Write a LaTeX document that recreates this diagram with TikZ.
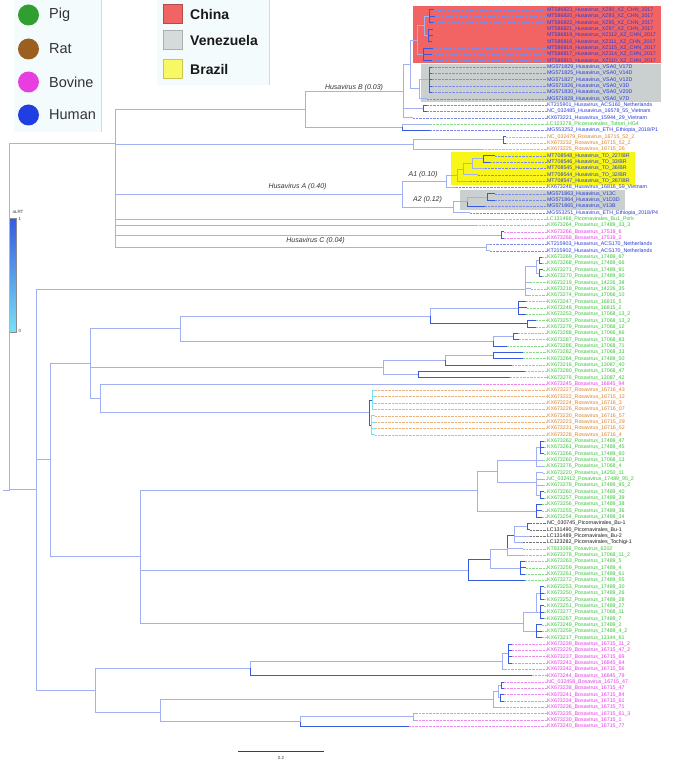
\documentclass[tikz,border=0pt]{standalone}
\usepackage{fontspec}
\setmainfont{Liberation Sans}
\definecolor{brL}{RGB}{160,176,240}
\definecolor{brD}{RGB}{55,90,225}
\definecolor{brC}{RGB}{120,225,245}
\definecolor{hu}{RGB}{40,60,215}
\definecolor{pg}{RGB}{55,195,55}
\definecolor{rt}{RGB}{220,128,40}
\definecolor{bv}{RGB}{232,55,232}
\definecolor{bk}{RGB}{25,25,25}
\definecolor{boxR}{RGB}{242,100,100}
\definecolor{boxG}{RGB}{202,207,207}
\definecolor{boxY}{RGB}{248,246,25}
\definecolor{legR}{RGB}{240,100,100}
\definecolor{legG}{RGB}{213,218,218}
\definecolor{legY}{RGB}{248,248,100}
\definecolor{cPig}{RGB}{48,158,48}
\definecolor{cRat}{RGB}{155,95,30}
\definecolor{cBov}{RGB}{232,62,225}
\definecolor{cHum}{RGB}{32,62,225}
\definecolor{panel}{RGB}{244,251,253}
\newcommand\LabX{547}
\newcommand\tp[5]{%
  \coordinate (#1) at (#2,{10+6.34*#3});
  \node[tiplab,text=#4] (#1l) at (\LabX,{10+6.34*#3}) {\detokenize{#5}};
  \draw[lead,draw=#4!60] (#1) -- (#1l.west);
}
\newcommand\ed[3][brl]{\draw[#1] (#2) |- (#3);}
\newcommand\nd[3]{\coordinate (#1) at (#2,#3);}
\tikzset{
  brl/.style={draw=brL,line width=1pt},
  brd/.style={draw=brD,line width=1pt},
  brc/.style={draw=brC,line width=1pt},
  lead/.style={line width=0.5pt,dash pattern=on 0.6pt off 0.8pt},
  tiplab/.style={anchor=west,inner sep=0pt,outer sep=0pt,font=\fontsize{5.3}{5.3}\selectfont},
  clab/.style={font=\fontsize{7}{7}\selectfont\itshape,text=black!80,inner sep=0pt},
  legtxt/.style={font=\fontsize{14.5}{14.5}\selectfont,anchor=west,inner sep=0pt,text=black!80},
  ctxt/.style={font=\fontsize{14}{14}\selectfont\bfseries,anchor=west,inner sep=0pt,text=black!90},
  legdot/.style={circle,minimum size=21pt,inner sep=0pt},
  legsq/.style={rectangle,minimum size=19pt,inner sep=0pt,line width=0.5pt},
  smalltxt/.style={font=\fontsize{4.5}{4.5}\selectfont,inner sep=0pt,text=black!75},
}
\begin{document}
\begin{tikzpicture}[x=1pt,y=-1pt]
\useasboundingbox (0,0) rectangle (683,762);
\fill[white] (0,0) rectangle (683,762);
% legend panels
\fill[panel] (14,0) rectangle (101,132);
\draw[black!15] (101,0) -- (101,132);
\fill[panel] (157,0) rectangle (269,85);
\draw[black!15] (269,0) -- (269,85);
\node[legdot,fill=cPig] (lgPig) at (28.5,15) {};
\node[legtxt] (lgPigT) at (49,15) {Pig};
\node[legdot,fill=cRat] (lgRat) at (28.5,49) {};
\node[legtxt] (lgRatT) at (49,49) {Rat};
\node[legdot,fill=cBov] (lgBov) at (28.5,82) {};
\node[legtxt] (lgBovT) at (49,82) {Bovine};
\node[legdot,fill=cHum] (lgHum) at (28.5,115) {};
\node[legtxt] (lgHumT) at (49,115) {Human};
\node[legsq,fill=legR,draw=legR!75!black] (lgCh) at (173,13.5) {};
\node[ctxt] (lgChT) at (190,14) {China};
\node[legsq,fill=legG,draw=legG!80!black] (lgVe) at (173,40) {};
\node[ctxt] (lgVeT) at (190,40.5) {Venezuela};
\node[legsq,fill=legY,draw=legY!80!black] (lgBr) at (173,68.5) {};
\node[ctxt] (lgBrT) at (190,69) {Brazil};
% country boxes
\fill[boxR] (413,6) rectangle (661,63);
\fill[boxG] (421,64.5) rectangle (661,101.8);
\fill[boxY] (451,152.5) rectangle (635,184.5);
\fill[boxG] (460,189.5) rectangle (625,209.5);
% colour bar
\shade[top color=brD,bottom color=brC] (9,218) rectangle (16,332);
\draw[black!45,line width=0.4pt] (9,218) rectangle (16,332);
\node[smalltxt] (cbT) at (18,212) {aLRT};
\node[smalltxt,anchor=west] (cb1) at (18.5,219) {1};
\node[smalltxt,anchor=west] (cb0) at (18.5,331) {0};
% scale bar
\coordinate (sbL) at (238,751);
\coordinate (sbR) at (324,751);
\draw[black!75,line width=0.8pt] (sbL) -- (sbR);
\node[smalltxt] (sbT) at (281,758) {0.2};
% tips
\tp{t0}{434}{0}{hu}{MT586823_Husavirus_XZ90_XZ_CHN_2017}
\tp{t1}{435}{1}{hu}{MT586820_Husavirus_XZ93_XZ_CHN_2017}
\tp{t2}{434}{2}{hu}{MT586822_Husavirus_XZ95_XZ_CHN_2017}
\tp{t3}{433}{3}{hu}{MT586821_Husavirus_XZ97_XZ_CHN_2017}
\tp{t4}{433}{4}{hu}{MT586819_Husavirus_XZ112_XZ_CHN_2017}
\tp{t5}{432}{5}{hu}{MT586816_Husavirus_XZ111_XZ_CHN_2017}
\tp{t6}{433}{6}{hu}{MT586818_Husavirus_XZ115_XZ_CHN_2017}
\tp{t7}{432}{7}{hu}{MT586817_Husavirus_XZ114_XZ_CHN_2017}
\tp{t8}{432}{8}{hu}{MT586815_Husavirus_XZ110_XZ_CHN_2017}
\tp{t9}{432}{9}{hu}{MG571829_Husavirus_VSA0_V17D}
\tp{t10}{432}{10}{hu}{MG571825_Husavirus_VSA0_V14D}
\tp{t11}{432}{11}{hu}{MG571827_Husavirus_VSA0_V12D}
\tp{t12}{432}{12}{hu}{MG571826_Husavirus_VSA0_V3D}
\tp{t13}{432}{13}{hu}{MG571830_Husavirus_VSA0_V20D}
\tp{t14}{427}{14}{hu}{MG571828_Husavirus_VSA0_V7D}
\tp{t15}{427}{15}{hu}{KT215901_Husavirus_ACS160_Netherlands}
\tp{t16}{427}{16}{hu}{NC_032485_Husavirus_16578_55_Vietnam}
\tp{t17}{413}{17}{hu}{KX673221_Husavirus_15944_29_Vietnam}
\tp{t18}{430}{18}{pg}{LC123278_Picornavirales_Tottori_HG4}
\tp{t19}{430}{19}{hu}{MG553252_Husavirus_ETH_Ethiopia_2018/P1}
\tp{t20}{506}{20}{rt}{NC_032479_Rosavirus_16715_52_2}
\tp{t21}{506}{21}{rt}{KX673232_Rosavirus_16715_52_2}
\tp{t22}{482}{22}{rt}{KX673225_Rosavirus_16715_26}
\tp{t23}{495}{23}{hu}{MT708548_Husavirus_TO_227/BR}
\tp{t24}{490}{24}{hu}{MT708546_Husavirus_TO_33/BR}
\tp{t25}{485}{25}{hu}{MT708545_Husavirus_TO_36/BR}
\tp{t26}{478}{26}{hu}{MT708544_Husavirus_TO_32/BR}
\tp{t27}{470}{27}{hu}{MT708547_Husavirus_TO_267/BR}
\tp{t28}{456}{28}{hu}{KX673248_Husavirus_16816_59_Vietnam}
\tp{t29}{495}{29}{hu}{MG571863_Husavirus_V13C}
\tp{t30}{495}{30}{hu}{MG571864_Husavirus_V1D3D}
\tp{t31}{485}{31}{hu}{MG571865_Husavirus_V13B}
\tp{t32}{470}{32}{hu}{MG553251_Husavirus_ETH_Ethiopia_2018/P4}
\tp{t33}{503}{33}{pg}{LC131466_Picornavirales_Bu1_Pork}
\tp{t34}{476}{34}{pg}{KX673264_Posavirus_17489_33_3}
\tp{t35}{504}{35}{bv}{KX673266_Bosavirus_17519_6}
\tp{t36}{504}{36}{bv}{KX673268_Bosavirus_17519_2}
\tp{t37}{490}{37}{hu}{KT215903_Husavirus_ACS170_Netherlands}
\tp{t38}{490}{38}{hu}{KT215902_Husavirus_ACS170_Netherlands}
\tp{t39}{542}{39}{pg}{KX673269_Posavirus_17489_67}
\tp{t40}{542}{40}{pg}{KX673268_Posavirus_17489_66}
\tp{t41}{543}{41}{pg}{KX673271_Posavirus_17489_91}
\tp{t42}{542}{42}{pg}{KX673270_Posavirus_17489_90}
\tp{t43}{530}{43}{pg}{KX673219_Posavirus_14226_38}
\tp{t44}{531}{44}{pg}{KX673218_Posavirus_14226_35}
\tp{t45}{529}{45}{pg}{KX673274_Posavirus_17068_10}
\tp{t46}{526}{46}{pg}{KX673247_Posavirus_16815_5}
\tp{t47}{527}{47}{pg}{KX673248_Posavirus_16815_2}
\tp{t48}{526}{48}{pg}{KX673253_Posavirus_17068_13_2}
\tp{t49}{536}{49}{pg}{KX673257_Posavirus_17068_13_2}
\tp{t50}{536}{50}{pg}{KX673279_Posavirus_17068_12}
\tp{t51}{518}{51}{pg}{KX673288_Posavirus_17066_86}
\tp{t52}{519}{52}{pg}{KX673287_Posavirus_17068_83}
\tp{t53}{507}{53}{pg}{KX673286_Posavirus_17068_71}
\tp{t54}{523}{54}{pg}{KX673282_Posavirus_17068_33}
\tp{t55}{523}{55}{pg}{KX673264_Posavirus_17489_50}
\tp{t56}{512}{56}{pg}{KX673216_Posavirus_13087_40}
\tp{t57}{525}{57}{pg}{KX673280_Posavirus_17068_47}
\tp{t58}{510}{58}{pg}{KX673276_Posavirus_13087_42}
\tp{t59}{480}{59}{bv}{KX673245_Bosavirus_16845_94}
\tp{t60}{375}{60}{rt}{KX673227_Rosavirus_16716_43}
\tp{t61}{375}{61}{rt}{KX673222_Rosavirus_16715_12}
\tp{t62}{375}{62}{rt}{KX673224_Rosavirus_16716_3}
\tp{t63}{375}{63}{rt}{KX673226_Rosavirus_16716_07}
\tp{t64}{375}{64}{rt}{KX673230_Rosavirus_16716_57}
\tp{t65}{375}{65}{rt}{KX673223_Rosavirus_16715_29}
\tp{t66}{375}{66}{rt}{KX673231_Rosavirus_16716_52}
\tp{t67}{375}{67}{rt}{KX673228_Rosavirus_16716_4}
\tp{t68}{544}{68}{pg}{KX673262_Posavirus_17489_47}
\tp{t69}{544}{69}{pg}{KX673261_Posavirus_17489_45}
\tp{t70}{544}{70}{pg}{KX673266_Posavirus_17489_60}
\tp{t71}{543}{71}{pg}{KX673260_Posavirus_17068_13}
\tp{t72}{543}{72}{pg}{KX673276_Posavirus_17068_4}
\tp{t73}{543}{73}{pg}{KX673220_Posavirus_14250_11}
\tp{t74}{543}{74}{pg}{NC_032412_Posavirus_17489_95_2}
\tp{t75}{543}{75}{pg}{KX673278_Posavirus_17489_95_2}
\tp{t76}{544}{76}{pg}{KX673260_Posavirus_17489_40}
\tp{t77}{544}{77}{pg}{KX673257_Posavirus_17489_39}
\tp{t78}{542}{78}{pg}{KX673256_Posavirus_17489_38}
\tp{t79}{542}{79}{pg}{KX673255_Posavirus_17489_36}
\tp{t80}{542}{80}{pg}{KX673254_Posavirus_17489_34}
\tp{t81}{530}{81}{bk}{NC_030745_Picornavirales_Bu-1}
\tp{t82}{530}{82}{bk}{LC131490_Picornavirales_Bu-1}
\tp{t83}{530}{83}{bk}{LC131489_Picornavirales_Bu-2}
\tp{t84}{523}{84}{bk}{LC123282_Picornavirales_Tochigi-1}
\tp{t85}{523}{85}{pg}{KT833066_Posavirus_6202}
\tp{t86}{523}{86}{pg}{KX673278_Posavirus_17068_11_2}
\tp{t87}{525}{87}{pg}{KX673263_Posavirus_17489_5}
\tp{t88}{526}{88}{pg}{KX673259_Posavirus_17489_4}
\tp{t89}{525}{89}{pg}{KX673261_Posavirus_17489_61}
\tp{t90}{525}{90}{pg}{KX673272_Posavirus_17489_55}
\tp{t91}{544}{91}{pg}{KX673253_Posavirus_17489_30}
\tp{t92}{544}{92}{pg}{KX673250_Posavirus_17489_26}
\tp{t93}{544}{93}{pg}{KX673252_Posavirus_17489_28}
\tp{t94}{544}{94}{pg}{KX673251_Posavirus_17489_27}
\tp{t95}{544}{95}{pg}{KX673277_Posavirus_17068_11}
\tp{t96}{544}{96}{pg}{KX673267_Posavirus_17489_7}
\tp{t97}{542}{97}{pg}{KX673249_Posavirus_17489_2}
\tp{t98}{542}{98}{pg}{KX673259_Posavirus_17489_4_2}
\tp{t99}{542}{99}{pg}{KX673217_Posavirus_13144_61}
\tp{t100}{512}{100}{bv}{KX673239_Bosavirus_16715_11_2}
\tp{t101}{512}{101}{bv}{KX673229_Bosavirus_16715_47_2}
\tp{t102}{512}{102}{bv}{KX673237_Bosavirus_16715_69}
\tp{t103}{512}{103}{bv}{KX673243_Bosavirus_16845_64}
\tp{t104}{505}{104}{bv}{KX673242_Bosavirus_16715_56}
\tp{t105}{532}{105}{bv}{KX673244_Bosavirus_16845_79}
\tp{t106}{504}{106}{bv}{NC_032458_Bosavirus_16715_47}
\tp{t107}{504}{107}{bv}{KX673238_Bosavirus_16715_47}
\tp{t108}{504}{108}{bv}{KX673241_Bosavirus_16715_84}
\tp{t109}{504}{109}{bv}{KX673234_Bosavirus_16715_61}
\tp{t110}{500}{110}{bv}{KX673236_Bosavirus_16715_71}
\tp{t111}{416}{111}{bv}{KX673235_Bosavirus_16715_61_3}
\tp{t112}{416}{112}{bv}{KX673230_Bosavirus_16715_1}
\tp{t113}{409}{113}{bv}{KX673240_Bosavirus_16715_77}
% internal nodes
\nd{R}{9}{490}
\coordinate (Rs) at (3,490);
\nd{N115}{115}{144}
\nd{N36}{36}{489.5}
\nd{N305}{305}{109.3}
\nd{HB}{403}{91.2}
\nd{RG}{410}{64.6}
\nd{RED}{417}{40.2}
\nd{RA}{424}{25.9}
\nd{RA1}{429}{16.3}
\nd{RA2}{428}{35.4}
\nd{RB}{423}{54.4}
\nd{GRY}{419}{89}
\nd{GN}{429}{79.7}
\nd{P1}{423}{108.3}
\nd{LM}{402}{127.3}
\nd{OR1}{413}{144.75}
\nd{OP}{503}{140}
\nd{HA}{402}{194.3}
\nd{A1}{446}{181.4}
\nd{Y1}{457}{175.3}
\nd{Y2}{463}{169.3}
\nd{Y3}{472}{163.8}
\nd{Y4}{483}{159}
\nd{A2}{453}{207.3}
\nd{A2a}{467}{201.8}
\nd{A2b}{487}{197}
\nd{BP}{501}{235}
\nd{HC}{486}{247.8}
\nd{G0}{525}{289}
\nd{G0a}{536}{266.6}
\nd{G0b}{539}{260.5}
\nd{G0c}{539}{273.2}
\nd{NM}{50}{459.5}
\nd{NMa}{90}{363}
\nd{NMb}{140}{556}
\nd{N180}{180}{328.7}
\nd{G430}{430}{316}
\nd{G518}{518}{308}
\nd{G527}{527}{323.9}
\nd{G493}{493}{341.4}
\nd{N513}{513}{336.6}
\nd{N383}{383}{367.5}
\nd{N445}{445}{360.4}
\nd{N493b}{493}{355.7}
\nd{N418}{418}{374.7}
\nd{N100}{100}{398}
\nd{OR}{369}{412.6}
\nd{ORa}{372}{400}
\nd{ORb}{371}{425.3}
\nd{G477}{477}{490}
\nd{G497}{497}{471}
\nd{GA1}{536}{460}
\nd{GA1a}{540}{447.5}
\nd{GA2}{536}{482}
\nd{GA2a}{540}{495.1}
\nd{GB}{536}{511}
\nd{K468}{468}{570}
\nd{K490}{490}{559}
\nd{K507}{507}{549}
\nd{K514}{514}{535}
\nd{K527}{527}{526.7}
\nd{K520}{520}{568}
\nd{G523}{523}{623}
\nd{GC1}{536}{612}
\nd{GC1a}{540}{593.4}
\nd{GC1b}{540}{612.3}
\nd{GC2}{536}{631.4}
\nd{NB}{95}{690}
\nd{NBa}{250}{668.4}
\nd{NBb}{160}{712}
\nd{NBc}{300}{721.6}
\nd{M502}{502}{661}
\nd{M508}{508}{653.5}
\nd{M493}{493}{699.5}
\nd{M498}{498}{691.5}
\nd{M501}{501}{685.2}
\nd{M500}{500}{697.9}
\nd{M413}{413}{716.9}
% edges
\draw[brl] (Rs) -- (R);
\ed{R}{N115} \ed{R}{N36}
\ed{N115}{N305} \ed{N115}{OR1} \ed{N115}{HA} \ed{N115}{t33} \ed{N115}{t34} \ed{N115}{BP} \ed{N115}{HC}
\ed{N305}{HB} \ed{N305}{LM}
\ed{HB}{RG} \ed{HB}{P1} \ed{HB}{t17}
\ed{RG}{RED} \ed{RG}{GRY}
\ed{RED}{RA} \ed{RED}{RB}
\ed{RA}{RA1} \ed{RA}{RA2}
\ed[brd]{RA1}{t0} \ed[brd]{RA1}{t1} \ed[brd]{RA1}{t2}
\ed[brd]{RA2}{t3} \ed[brd]{RA2}{t4} \ed[brd]{RA2}{t5}
\ed[brd]{RB}{t6} \ed[brd]{RB}{t7} \ed[brd]{RB}{t8}
\ed{GRY}{GN} \ed{GRY}{t14}
\ed[brd]{GN}{t9} \ed[brd]{GN}{t10} \ed[brd]{GN}{t11} \ed[brd]{GN}{t12} \ed[brd]{GN}{t13}
\ed[brd]{P1}{t15} \ed[brd]{P1}{t16}
\ed{LM}{t18} \ed[brd]{LM}{t19}
\ed{OR1}{OP} \ed{OR1}{t22}
\ed[brd]{OP}{t20} \ed[brd]{OP}{t21}
\ed{HA}{A1} \ed{HA}{A2}
\ed{A1}{Y1} \ed{A1}{t28}
\ed{Y1}{Y2} \ed{Y1}{t27}
\ed{Y2}{Y3} \ed{Y2}{t26}
\ed{Y3}{Y4} \ed{Y3}{t25}
\ed[brd]{Y4}{t23} \ed[brd]{Y4}{t24}
\ed{A2}{A2a} \ed{A2}{t32}
\ed{A2a}{A2b} \ed[brd]{A2a}{t31}
\ed[brd]{A2b}{t29} \ed[brd]{A2b}{t30}
\ed[brd]{BP}{t35} \ed[brd]{BP}{t36}
\ed{HC}{t37} \ed{HC}{t38}
\ed{N36}{G0} \ed{N36}{NM} \ed{N36}{NB}
\ed{G0}{G0a} \ed{G0}{t43} \ed{G0}{t44} \ed{G0}{t45}
\ed{G0a}{G0b} \ed{G0a}{G0c}
\ed[brd]{G0b}{t39} \ed[brd]{G0b}{t40} \ed[brd]{G0c}{t41} \ed[brd]{G0c}{t42}
\ed{NM}{NMa} \ed{NM}{NMb}
\ed{NMa}{N180} \ed{NMa}{N383} \ed{NMa}{N100}
\ed{N180}{G430} \ed{N180}{G493}
\ed{G430}{G518} \ed[brd]{G430}{G527}
\ed[brd]{G518}{t46} \ed[brd]{G518}{t47} \ed[brd]{G518}{t48}
\ed[brd]{G527}{t49} \ed[brd]{G527}{t50}
\ed{G493}{N513} \ed[brd]{G493}{t53}
\ed[brd]{N513}{t51} \ed[brd]{N513}{t52}
\ed{N383}{N445} \ed{N383}{N418}
\ed{N445}{N493b} \ed[brd]{N445}{t56}
\ed[brd]{N493b}{t54} \ed[brd]{N493b}{t55}
\ed[brd]{N418}{t57} \ed[brd]{N418}{t58}
\ed{N100}{t59} \ed{N100}{OR}
\ed[brd]{OR}{ORa} \ed[brd]{OR}{ORb}
\ed[brc]{ORa}{t60} \ed[brc]{ORa}{t61} \ed[brc]{ORa}{t62} \ed[brc]{ORa}{t63}
\ed[brc]{ORb}{t64} \ed[brc]{ORb}{t65} \ed[brc]{ORb}{t66} \ed[brc]{ORb}{t67}
\ed{NMb}{G477} \ed{NMb}{K468} \ed{NMb}{G523}
\ed{G477}{G497} \ed{G477}{GB}
\ed{G497}{GA1} \ed{G497}{GA2}
\ed{GA1}{GA1a} \ed{GA1}{t71} \ed{GA1}{t72}
\ed[brd]{GA1a}{t68} \ed[brd]{GA1a}{t69} \ed[brd]{GA1a}{t70}
\ed{GA2}{t73} \ed{GA2}{t74} \ed{GA2}{t75} \ed{GA2}{GA2a}
\ed[brd]{GA2a}{t76} \ed[brd]{GA2a}{t77}
\ed[brd]{GB}{t78} \ed[brd]{GB}{t79} \ed[brd]{GB}{t80}
\ed[brd]{K468}{K490} \ed[brd]{K468}{t90}
\ed{K490}{K507} \ed{K490}{K520}
\ed[brd]{K507}{K514} \ed{K507}{t85} \ed{K507}{t86}
\ed{K514}{K527} \ed{K514}{t83} \ed{K514}{t84}
\ed[brd]{K527}{t81} \ed[brd]{K527}{t82}
\ed[brd]{K520}{t87} \ed[brd]{K520}{t88} \ed[brd]{K520}{t89}
\ed{G523}{GC1} \ed{G523}{GC2}
\ed{GC1}{GC1a} \ed{GC1}{GC1b}
\ed[brd]{GC1a}{t91} \ed[brd]{GC1a}{t92} \ed[brd]{GC1a}{t93}
\ed[brd]{GC1b}{t94} \ed[brd]{GC1b}{t95} \ed[brd]{GC1b}{t96}
\ed[brd]{GC2}{t97} \ed[brd]{GC2}{t98} \ed[brd]{GC2}{t99}
\ed{NB}{NBa} \ed{NB}{NBb}
\ed{NBa}{M502} \ed[brd]{NBa}{t105}
\ed{NBb}{M493} \ed{NBb}{NBc}
\ed{NBc}{M413} \ed[brd]{NBc}{t113}
\ed{M502}{M508} \ed{M502}{t104}
\ed[brd]{M508}{t100} \ed[brd]{M508}{t101} \ed[brd]{M508}{t102} \ed[brd]{M508}{t103}
\ed{M493}{M498} \ed{M493}{t110}
\ed{M498}{M501} \ed{M498}{M500}
\ed[brd]{M501}{t106} \ed[brd]{M501}{t107} \ed[brd]{M500}{t108} \ed[brd]{M500}{t109}
\ed{M413}{t111} \ed{M413}{t112}
% clade labels
\node[clab] (lbB) at (354,88) {Husavirus B (0.03)};
\node[clab] (lbA) at (297.5,187) {Husavirus A (0.40)};
\node[clab] (lbC) at (315.5,241) {Husavirus C (0.04)};
\node[clab] (lbA1) at (423,175) {A1 (0.10)};
\node[clab] (lbA2) at (427.5,200) {A2 (0.12)};
\end{tikzpicture}
\end{document}
